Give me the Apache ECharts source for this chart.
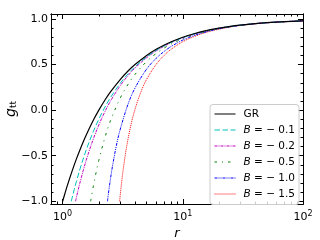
<!DOCTYPE html>
<html><head><meta charset="utf-8">
<script src="https://cdn.jsdelivr.net/npm/echarts@6/dist/echarts.min.js"></script>
<style>html,body{margin:0;padding:0;background:#fff}#c{width:320px;height:240px}</style>
</head><body><div id="c"></div>
<script>
// ---- data ----
const seriesNames = ['GR', 'B = −0.1', 'B = −0.2', 'B = −0.5', 'B = −1.0', 'B = −1.5'];
const legendValues = ['', '0.1', '0.2', '0.5', '1.0', '1.5'];

const rGR = [1,1.05,1.1,1.2,1.3,1.4,1.5,1.6,1.8,2,2.25,2.5,3,3.5,4,5,6,7,8,10,12,15,20,25,30,40,50,70,100];
const gGR = [-1,-0.905,-0.818,-0.667,-0.538,-0.429,-0.333,-0.25,-0.111,0,0.111,0.2,0.333,0.429,0.5,0.6,0.667,0.714,0.75,0.8,0.833,0.867,0.9,0.92,0.933,0.95,0.96,0.971,0.98];

const rB01 = [1.18,1.2,1.25,1.3,1.4,1.5,1.6,1.8,2,2.25,2.5,3,3.5,4,5,6,7,8,10,12,15,20,30,50,100];
const gB01 = [-1,-0.961,-0.869,-0.786,-0.639,-0.515,-0.408,-0.235,-0.099,0.034,0.138,0.291,0.398,0.476,0.585,0.656,0.707,0.744,0.796,0.831,0.865,0.899,0.933,0.96,0.98];

const rB02 = [1.28,1.3,1.35,1.4,1.5,1.6,1.8,2,2.25,2.5,3,3.5,4,5,6,7,8,10,12,15,20,30,50,100];
const gB02 = [-1,-0.961,-0.869,-0.786,-0.639,-0.515,-0.316,-0.163,-0.015,0.099,0.265,0.379,0.462,0.576,0.65,0.702,0.741,0.794,0.829,0.864,0.899,0.933,0.96,0.98];

const rB05 = [1.71,1.75,1.8,1.9,2,2.25,2.5,3,3.5,4,5,6,7,8,10,12,15,20,30,50,100];
const gB05 = [-1,-0.923,-0.835,-0.681,-0.55,-0.299,-0.117,0.127,0.283,0.392,0.534,0.622,0.682,0.726,0.785,0.823,0.86,0.896,0.932,0.959,0.98];

const rB10 = [2.36,2.4,2.5,2.6,2.8,3,3.5,4,5,6,7,8,10,12,15,20,30,50,100];
const gB10 = [-1,-0.923,-0.754,-0.613,-0.389,-0.22,0.065,0.242,0.451,0.569,0.645,0.699,0.769,0.812,0.853,0.893,0.93,0.959,0.98];

const rB15 = [2.98,3.02,3.1,3.2,3.4,3.7,4,4.5,5,6,7,8,10,12,15,20,30,50,100];
const gB15 = [-1,-0.923,-0.786,-0.639,-0.408,-0.163,0.01,0.206,0.338,0.502,0.602,0.668,0.751,0.8,0.846,0.889,0.929,0.958,0.98];

const xMajorTicks = [1, 10, 100];
const xTickExponents = ['0', '1', '2'];
const xMinorTicks = [0.9,2,3,4,5,6,7,8,9,20,30,40,50,60,70,80,90];
const yMajorTicks = [-1, -0.5, 0, 0.5, 1];
const yTickLabels = ['−1.0', '−0.5', '0.0', '0.5', '1.0'];
const yMinorTicks = [-0.9,-0.8,-0.7,-0.6,-0.4,-0.3,-0.2,-0.1,0.1,0.2,0.3,0.4,0.6,0.7,0.8,0.9];

// ---- presentation ----
const FONT = 'DejaVu Sans';
const XMIN = 0.8, XMAX = 100, YMIN = -1.03, YMAX = 1.055;
const colors = ['#000000', '#00BFBF', '#BF00BF', '#008000', '#0000FF', '#FF0000'];
const dashes = ['solid', [5.5, 2.5], [3, 1, 1, 1], [2.5, 5, 1, 5], [3, 1, 1, 1, 1, 1], [1, 1]];
const widths = [1.2, 1, 1, 1, 1, 1];
const rs = [rGR, rB01, rB02, rB05, rB10, rB15];
const gs = [gGR, gB01, gB02, gB05, gB10, gB15];

function xAx(pos, ticks, len, showLabels) {
  return {
    type: 'log', logBase: 10, min: XMIN, max: XMAX, position: pos,
    axisLine: {show: true, onZero: false, lineStyle: {color: '#000', width: 1}},
    axisTick: {show: true, inside: true, length: len, customValues: ticks, lineStyle: {color: '#000', width: 1}},
    axisLabel: showLabels ? {
      show: true, customValues: xMajorTicks, margin: 6, color: '#000',
      formatter: v => {
        const i = xMajorTicks.findIndex(t => Math.abs(t - v) / t < 1e-6);
        return '{b|10}{s|' + xTickExponents[i] + '}';
      },
      rich: {b: {fontFamily: FONT, fontSize: 11, color: '#000'},
             s: {fontFamily: FONT, fontSize: 8, color: '#000', verticalAlign: 'top', padding: [0, 0, 6, 0]}}
    } : {show: false},
    splitLine: {show: false}, minorTick: {show: false}, minorSplitLine: {show: false}
  };
}
function yAx(pos, ticks, len, showLabels) {
  return {
    type: 'value', min: YMIN, max: YMAX, position: pos,
    axisLine: {show: true, onZero: false, lineStyle: {color: '#000', width: 1}},
    axisTick: {show: true, inside: true, length: len, customValues: ticks, lineStyle: {color: '#000', width: 1}},
    axisLabel: showLabels ? {
      show: true, customValues: yMajorTicks, margin: 3, color: '#000', fontFamily: FONT, fontSize: 11,
      formatter: v => {
        const i = yMajorTicks.findIndex(t => Math.abs(t - v) < 1e-6);
        return i >= 0 ? yTickLabels[i] : '';
      }
    } : {show: false},
    splitLine: {show: false}, minorTick: {show: false}, minorSplitLine: {show: false}
  };
}

const xAxes = [
  xAx('bottom', xMajorTicks, 5, true),
  xAx('bottom', xMinorTicks, 2.5, false),
  xAx('top', xMajorTicks, 5, false),
  xAx('top', xMinorTicks, 2.5, false)
];
xAxes[0].name = 'r';
xAxes[0].nameLocation = 'middle';
xAxes[0].nameGap = 20;
xAxes[0].nameTextStyle = {fontFamily: FONT, fontSize: 13, fontStyle: 'italic', color: '#000'};

const yAxes = [
  yAx('left', yMajorTicks, 5, true),
  yAx('left', yMinorTicks, 2.5, false),
  yAx('right', yMajorTicks, 5, false),
  yAx('right', yMinorTicks, 2.5, false)
];
yAxes[0].name = '{g|g}{s|tt}';
yAxes[0].nameLocation = 'middle';
yAxes[0].nameRotate = 90;
yAxes[0].nameGap = 33;
yAxes[0].nameMoveOverlap = false;
yAxes[0].nameTextStyle = {color: '#000', rich: {
  g: {fontFamily: FONT, fontSize: 14, fontStyle: 'italic', color: '#000'},
  s: {fontFamily: FONT, fontSize: 9, color: '#000', verticalAlign: 'bottom', padding: [4, 0, 0, 0]}
}};

const series = seriesNames.map((name, k) => ({
  name, type: 'line', xAxisIndex: 0, yAxisIndex: 0,
  data: rs[k].map((r, i) => [r, gs[k][i]]),
  symbol: 'none', smooth: 0.35, clip: true,
  lineStyle: {color: colors[k], width: widths[k], type: dashes[k]},
  itemStyle: {color: colors[k]},
  z: 10 - k
}));

const chart = echarts.init(document.getElementById('c'), null, {renderer: 'canvas'});
chart.setOption({
  animation: false,
  backgroundColor: '#fff',
  grid: {left: 51, right: 17, top: 14, bottom: 36, containLabel: false, outerBoundsMode: 'none'},
  xAxis: xAxes,
  yAxis: yAxes,
  legend: {
    orient: 'vertical', left: 210, top: 104.5,
    padding: [4, 4, 5, 4], itemGap: 5, itemWidth: 21, itemHeight: 10,
    backgroundColor: 'rgba(255,255,255,0.8)', borderColor: '#cccccc', borderWidth: 1, borderRadius: 3,
    itemStyle: {opacity: 0, color: 'rgba(0,0,0,0)', borderColor: 'rgba(0,0,0,0)', borderWidth: 0},
    lineStyle: {width: 1},
    data: seriesNames,
    formatter: name => {
      const k = seriesNames.indexOf(name);
      return k === 0 ? '{t|GR}' : '{i|B}{t| = − ' + legendValues[k] + '}';
    },
    textStyle: {fontFamily: FONT, fontSize: 10.5, color: '#000', lineHeight: 10, padding: [0, 0, 0, 3],
      rich: {i: {fontFamily: FONT, fontSize: 10.5, fontStyle: 'italic', color: '#000'},
             t: {fontFamily: FONT, fontSize: 10.5, color: '#000'}}}
  },
  series
});
</script></body></html>
